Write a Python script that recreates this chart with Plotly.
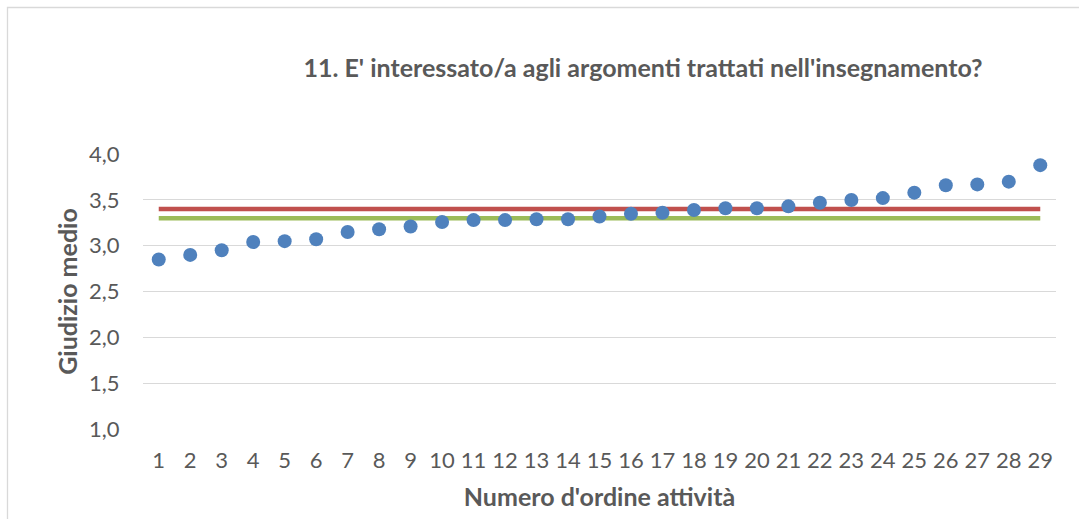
import plotly.graph_objects as go

attivita = list(range(1, 30))
giudizio = [2.85, 2.90, 2.95, 3.04, 3.05, 3.07, 3.15, 3.18, 3.21, 3.26,
            3.28, 3.28, 3.29, 3.29, 3.32, 3.35, 3.36, 3.39, 3.41, 3.41,
            3.43, 3.47, 3.50, 3.52, 3.58, 3.66, 3.67, 3.70, 3.88]
media_rossa = [3.40] * 29
media_verde = [3.30] * 29
tick_y = [1.0, 1.5, 2.0, 2.5, 3.0, 3.5, 4.0]

W, H = 1079, 519
L, R, T, B = 143, 23, 154, 90
pw, ph = W - L - R, H - T - B

def px_x(x):
    return (x - L) / pw

def px_y(y):
    return (H - B - y) / ph

TXT = "#595959"
FONT = "Lato"
CLEAR = "rgba(0,0,0,0)"

fig = go.Figure()
fig.add_trace(go.Scatter(x=attivita, y=media_rossa, mode="lines",
                         line=dict(color="#C0504D", width=4.5), hoverinfo="skip"))
fig.add_trace(go.Scatter(x=attivita, y=media_verde, mode="lines",
                         line=dict(color="#9BBB59", width=4.5), hoverinfo="skip"))
fig.add_trace(go.Scatter(x=attivita, y=giudizio, mode="markers",
                         marker=dict(color="#4F81BD", size=14)))

fig.update_layout(
    width=W, height=H,
    margin=dict(l=L, r=R, t=T, b=B),
    paper_bgcolor="white", plot_bgcolor="white",
    showlegend=False,
    separators=",.",
    font=dict(family=FONT, color=TXT, size=22),
    title=dict(text="<b>11. E' interessato/a agli argomenti trattati nell'insegnamento?</b>",
               font=dict(family=FONT, size=25, color=TXT),
               xref="paper", x=px_x(643), xanchor="center",
               yref="container", y=1 - 68 / H, yanchor="middle"),
    xaxis=dict(range=[0.5, 29.5], tickmode="array", tickvals=attivita,
               showgrid=False, zeroline=False, showline=False,
               ticks="outside", ticklen=12, tickcolor=CLEAR,
               tickfont=dict(size=22, color=TXT),
               title=dict(text="<b>Numero d'ordine attività</b>",
                          font=dict(size=25, color=TXT), standoff=16)),
    yaxis=dict(range=[0.998, 4.002], tickmode="array", tickvals=tick_y,
               tickformat=".1f", showgrid=True, gridcolor="#D9D9D9", gridwidth=1.3,
               zeroline=False, showline=False,
               ticks="outside", ticklen=18, tickcolor=CLEAR,
               tickfont=dict(size=22, color=TXT),
               title=dict(text="<b>Giudizio medio</b>",
                          font=dict(size=25, color=TXT), standoff=4)),
    shapes=[dict(type="rect", xref="paper", yref="paper",
                 x0=px_x(7.5), x1=px_x(1100), y0=px_y(560), y1=px_y(7.5),
                 line=dict(color="#D9D9D9", width=1.3), fillcolor=CLEAR,
                 layer="below")],
)

fig.write_html("out.html", config={"displayModeBar": False},
               post_script="document.body.style.margin='0';")
